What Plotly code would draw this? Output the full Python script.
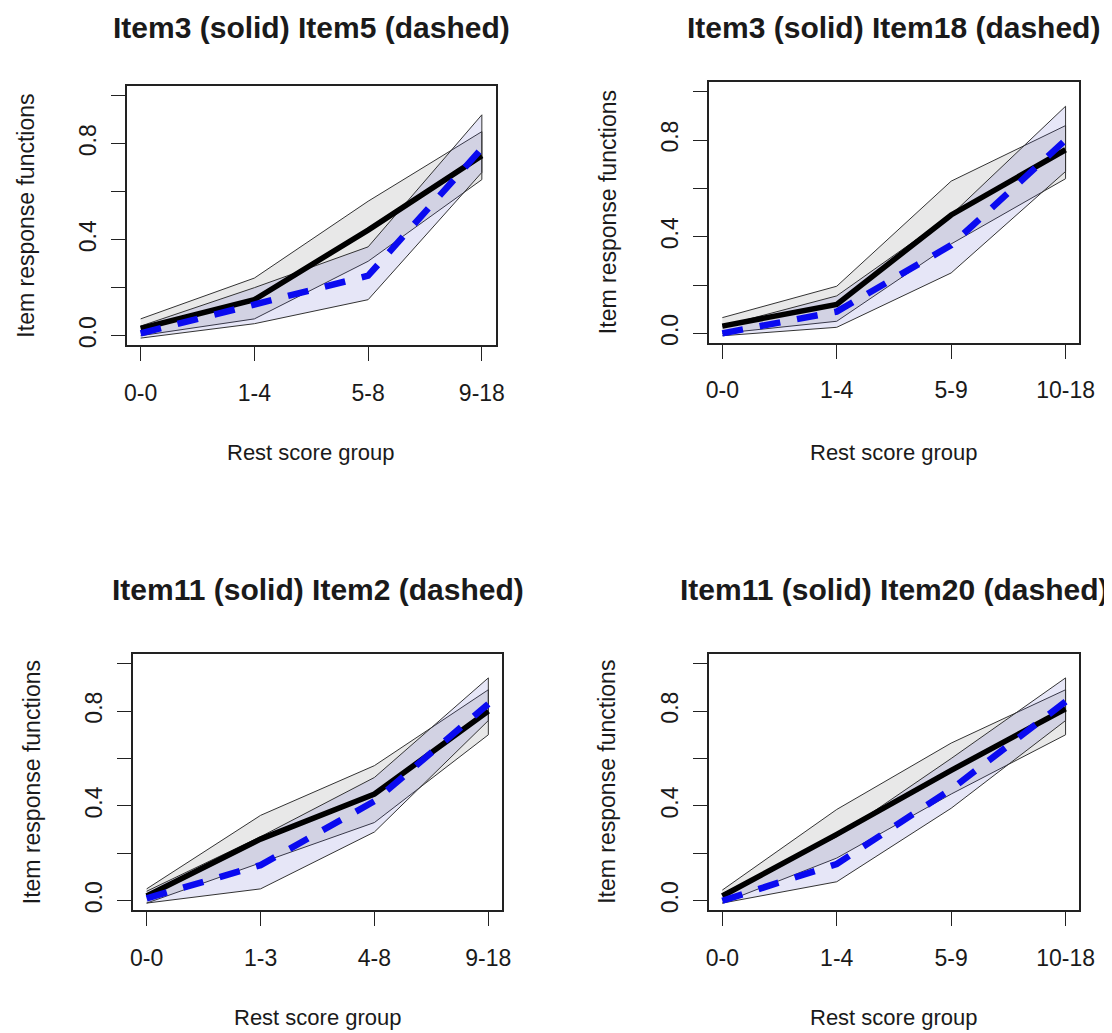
import plotly.graph_objects as go

# ---------------- data ----------------
groups_p1 = ["0-0", "1-4", "5-8", "9-18"]
groups_p2 = ["0-0", "1-4", "5-9", "10-18"]
groups_p3 = ["0-0", "1-3", "4-8", "9-18"]
groups_p4 = ["0-0", "1-4", "5-9", "10-18"]

titles = [
    "Item3 (solid) Item5 (dashed)",
    "Item3 (solid) Item18 (dashed)",
    "Item11 (solid) Item2 (dashed)",
    "Item11 (solid) Item20 (dashed)",
]

# Panel 1: Item3 (solid) vs Item5 (dashed)
item3_p1 = [0.03, 0.15, 0.44, 0.75]
item3_p1_lo = [0.00, 0.07, 0.31, 0.65]
item3_p1_hi = [0.07, 0.24, 0.56, 0.85]
item5_p1 = [0.01, 0.13, 0.25, 0.78]
item5_p1_lo = [-0.01, 0.05, 0.15, 0.68]
item5_p1_hi = [0.04, 0.20, 0.37, 0.92]

# Panel 2: Item3 (solid) vs Item18 (dashed)
item3_p2 = [0.03, 0.12, 0.49, 0.76]
item3_p2_lo = [0.00, 0.05, 0.37, 0.64]
item3_p2_hi = [0.065, 0.195, 0.63, 0.86]
item18_p2 = [0.00, 0.09, 0.365, 0.80]
item18_p2_lo = [-0.01, 0.025, 0.25, 0.67]
item18_p2_hi = [0.03, 0.155, 0.49, 0.94]

# Panel 3: Item11 (solid) vs Item2 (dashed)
item11_p3 = [0.02, 0.26, 0.45, 0.80]
item11_p3_lo = [-0.01, 0.16, 0.33, 0.70]
item11_p3_hi = [0.05, 0.36, 0.57, 0.89]
item2_p3 = [0.01, 0.15, 0.42, 0.83]
item2_p3_lo = [-0.01, 0.05, 0.29, 0.76]
item2_p3_hi = [0.04, 0.27, 0.52, 0.94]

# Panel 4: Item11 (solid) vs Item20 (dashed)
item11_p4 = [0.02, 0.28, 0.55, 0.81]
item11_p4_lo = [-0.01, 0.18, 0.45, 0.70]
item11_p4_hi = [0.045, 0.385, 0.665, 0.89]
item20_p4 = [0.00, 0.155, 0.47, 0.84]
item20_p4_lo = [-0.01, 0.08, 0.39, 0.76]
item20_p4_hi = [0.03, 0.27, 0.60, 0.94]

y_tick_vals = [0.0, 0.2, 0.4, 0.6, 0.8, 1.0]
y_tick_text = ["0.0", "", "0.4", "", "0.8", ""]

x_title = "Rest score group"
y_title = "Item response functions"

# ---------------- layout geometry ----------------
# The page body has an 8px margin, so the figure sits 8px right / 8px down
# in the window; all positions below are window pixels minus that offset.
OFF = 8
W, H = 1112 - OFF, 1033 - OFF
# plot boxes in window pixels: (left, right, top, bottom)
boxes = [
    (127.0, 495.5, 86.0, 345.3),
    (708.6, 1079.3, 82.1, 343.0),
    (133.0, 502.0, 654.2, 910.2),
    (708.6, 1079.3, 654.2, 910.2),
]

FONT = "Liberation Sans, Arial, sans-serif"
TXT = "#1a1a1a"
GRAY_FILL = "rgba(130,130,130,0.18)"
BLUE_FILL = "rgba(85,85,200,0.15)"
EDGE = "#333333"

panels = [
    (groups_p1, item3_p1, item3_p1_lo, item3_p1_hi, item5_p1, item5_p1_lo, item5_p1_hi),
    (groups_p2, item3_p2, item3_p2_lo, item3_p2_hi, item18_p2, item18_p2_lo, item18_p2_hi),
    (groups_p3, item11_p3, item11_p3_lo, item11_p3_hi, item2_p3, item2_p3_lo, item2_p3_hi),
    (groups_p4, item11_p4, item11_p4_lo, item11_p4_hi, item20_p4, item20_p4_lo, item20_p4_hi),
]


def px_x(v):
    return (v - OFF) / W


def px_y(v):
    return 1 - (v - OFF) / H


fig = go.Figure()
layout = dict(
    width=W, height=H,
    margin=dict(l=0, r=0, t=0, b=0, pad=0),
    paper_bgcolor="white", plot_bgcolor="white",
    showlegend=False,
    font=dict(family=FONT, color=TXT),
)
annotations = []

for i, (groups, s, s_lo, s_hi, d, d_lo, d_hi) in enumerate(panels):
    k = "" if i == 0 else str(i + 1)
    xa, ya = "x" + k, "y" + k
    xs = list(range(1, len(groups) + 1))
    poly_x = xs + xs[::-1]

    # solid item band (grey)
    fig.add_trace(go.Scatter(
        x=poly_x, y=s_hi + s_lo[::-1], xaxis=xa, yaxis=ya,
        mode="lines", fill="toself", fillcolor=GRAY_FILL,
        line=dict(color=EDGE, width=1), hoverinfo="skip"))
    # dashed item band (blue)
    fig.add_trace(go.Scatter(
        x=poly_x, y=d_hi + d_lo[::-1], xaxis=xa, yaxis=ya,
        mode="lines", fill="toself", fillcolor=BLUE_FILL,
        line=dict(color=EDGE, width=1), hoverinfo="skip"))
    # solid item line
    fig.add_trace(go.Scatter(
        x=xs, y=s, xaxis=xa, yaxis=ya, mode="lines",
        line=dict(color="black", width=5.5)))
    # dashed item line
    fig.add_trace(go.Scatter(
        x=xs, y=d, xaxis=xa, yaxis=ya, mode="lines",
        line=dict(color="#0a0af0", width=6.5, dash="21px,17px")))

    l, r, t, b = boxes[i]
    xdom = [px_x(l), px_x(r)]
    ydom = [px_y(b), px_y(t)]
    layout["xaxis" + k] = dict(
        domain=xdom, anchor=ya, range=[0.88, 4.12], automargin=False,
        tickmode="array", tickvals=xs, ticktext=groups,
        ticks="outside", ticklen=14, tickwidth=1.2, tickcolor="#222",
        showline=True, mirror=True, linecolor="#222", linewidth=1.5,
        showgrid=False, zeroline=False, fixedrange=True,
        tickfont=dict(size=23, family=FONT, color=TXT),
        ticklabelstandoff=12,
    )
    layout["yaxis" + k] = dict(
        domain=ydom, anchor=xa, range=[-0.04, 1.04], automargin=False,
        tickmode="array", tickvals=y_tick_vals, ticktext=y_tick_text,
        tickangle=-90,
        ticks="outside", ticklen=14, tickwidth=1.2, tickcolor="#222",
        showline=True, mirror=True, linecolor="#222", linewidth=1.5,
        showgrid=False, zeroline=False, fixedrange=True,
        tickfont=dict(size=23, family=FONT, color=TXT),
        ticklabelstandoff=6,
    )

    cx = (l + r) / 2
    cy = (t + b) / 2
    title_y = 27 if i < 2 else 589
    xlab_y = 453 if i < 2 else 1017
    annotations.append(dict(
        text="<b>" + titles[i] + "</b>", xref="paper", yref="paper",
        x=px_x(cx), y=px_y(title_y), xanchor="center", yanchor="middle",
        showarrow=False, font=dict(size=30, family=FONT, color=TXT)))
    annotations.append(dict(
        text=x_title, xref="paper", yref="paper",
        x=px_x(cx), y=px_y(xlab_y), xanchor="center", yanchor="middle",
        showarrow=False, font=dict(size=22, family=FONT, color=TXT)))
    annotations.append(dict(
        text=y_title, xref="paper", yref="paper",
        x=px_x(l - 101), y=px_y(cy), xanchor="center", yanchor="middle",
        textangle=-90,
        showarrow=False, font=dict(size=23, family=FONT, color=TXT)))

layout["annotations"] = annotations
fig.update_layout(**layout)
fig.write_html("out.html")
